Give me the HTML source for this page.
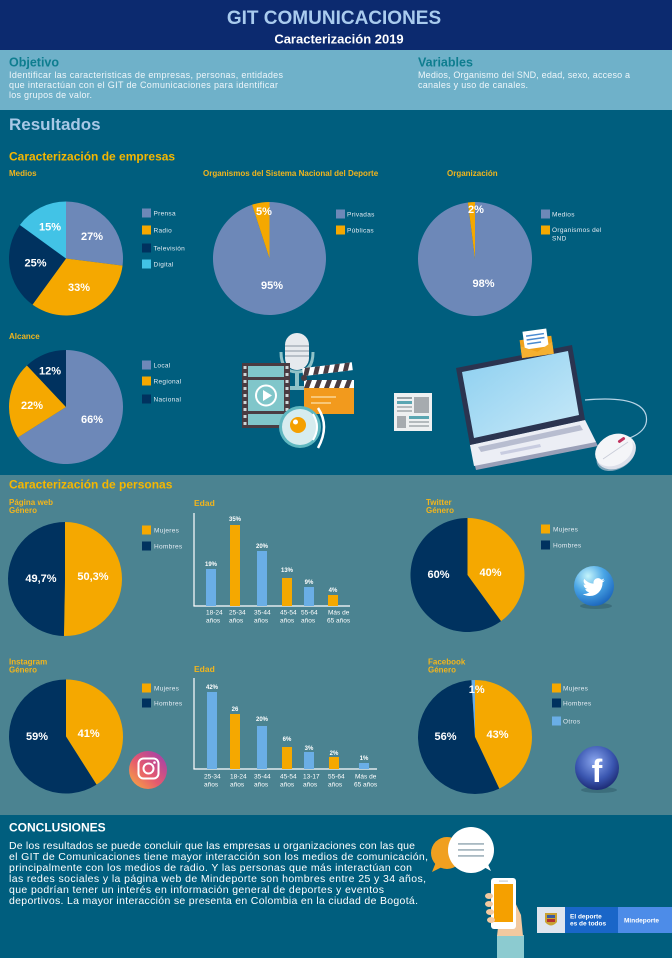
<!DOCTYPE html>
<html><head><meta charset="utf-8">
<style>
html,body{margin:0;padding:0;background:#005e7e;}
svg{display:block;}
text{font-family:"Liberation Sans",sans-serif;}
.lg{font-size:6.5px;fill:#e3ebf2;letter-spacing:0.3px;}
.pl{font-size:11px;font-weight:bold;fill:#ffffff;text-anchor:middle;}
.st{font-size:8px;font-weight:bold;fill:#f2b51c;}
.bv{font-size:6px;font-weight:bold;fill:#ffffff;text-anchor:middle;}
.xl{font-size:6.5px;fill:#ffffff;}
.bd{font-size:9px;fill:#eef6fa;}
.cc{font-size:10.5px;fill:#ffffff;}
</style></head><body>
<svg width="672" height="958" viewBox="0 0 672 958" xmlns="http://www.w3.org/2000/svg">
<defs>
<radialGradient id="tw" cx="0.35" cy="0.25" r="0.8">
<stop offset="0" stop-color="#c4f4fb"/><stop offset="0.5" stop-color="#4aa6e6"/><stop offset="1" stop-color="#1a64bc"/>
</radialGradient>
<radialGradient id="fb" cx="0.45" cy="0.35" r="0.7">
<stop offset="0" stop-color="#8aa6ee"/><stop offset="0.6" stop-color="#3a56b0"/><stop offset="1" stop-color="#18246a"/>
</radialGradient>
<linearGradient id="ig" x1="0" y1="1" x2="1" y2="0">
<stop offset="0" stop-color="#f9b23c"/><stop offset="0.45" stop-color="#e65a6e"/><stop offset="1" stop-color="#9a3cb4"/>
</linearGradient>
<linearGradient id="scr" x1="0" y1="0" x2="1" y2="1">
<stop offset="0" stop-color="#8ccff0"/><stop offset="1" stop-color="#c8e9f8"/>
</linearGradient>
</defs>

<!-- backgrounds -->
<rect x="0" y="0" width="672" height="50" fill="#0c2a6f"/>
<rect x="0" y="50" width="672" height="60" fill="#6fb1c9"/>
<rect x="0" y="110" width="672" height="365" fill="#005e7e"/>
<rect x="0" y="475" width="672" height="340" fill="#4b8391"/>
<rect x="0" y="815" width="672" height="143" fill="#005e7e"/>

<!-- header -->
<text x="334" y="24" font-size="19" font-weight="bold" fill="#a9cbee" text-anchor="middle">GIT COMUNICACIONES</text>
<text x="339" y="43.5" font-size="13" font-weight="bold" fill="#ffffff" text-anchor="middle">Caracterización 2019</text>

<!-- band -->
<text x="9" y="66.5" font-size="12.5" font-weight="bold" fill="#0e7d8f">Objetivo</text>
<text class="bd" x="9" y="78" textLength="274" lengthAdjust="spacing">Identificar las caracteristicas de empresas, personas, entidades</text>
<text class="bd" x="9" y="88" textLength="269" lengthAdjust="spacing">que interactúan con el GIT de Comunicaciones para identificar</text>
<text class="bd" x="9" y="98" textLength="83" lengthAdjust="spacing">los grupos de valor.</text>
<text x="418" y="66.5" font-size="12.5" font-weight="bold" fill="#0e7d8f">Variables</text>
<text class="bd" x="418" y="78" textLength="212" lengthAdjust="spacing">Medios, Organismo del SND, edad, sexo, acceso a</text>
<text class="bd" x="418" y="88" textLength="110" lengthAdjust="spacing">canales y uso de canales.</text>

<!-- resultados -->
<text x="9" y="130" font-size="17" font-weight="bold" fill="#a8c8e6">Resultados</text>
<text x="9" y="160.5" font-size="12" font-weight="bold" fill="#f5b700">Caracterización de empresas</text>

<!-- Medios -->
<text class="st" x="9" y="176">Medios</text>
<path d="M66 258.5 L66 201.5 A57 57 0 0 1 122.55 265.64 Z" fill="#6d88b8"/>
<path d="M66 258.5 L122.55 265.64 A57 57 0 0 1 32.5 304.61 Z" fill="#f5a800"/>
<path d="M66 258.5 L32.5 304.61 A57 57 0 0 1 19.89 225 Z" fill="#00325f"/>
<path d="M66 258.5 L19.89 225 A57 57 0 0 1 66 201.5 Z" fill="#42c3e6"/>
<text class="pl" x="92" y="240">27%</text>
<text class="pl" x="79" y="291">33%</text>
<text class="pl" x="35.5" y="266.5">25%</text>
<text class="pl" x="50" y="230.5">15%</text>
<rect x="142" y="208.5" width="9" height="9" fill="#6d88b8"/><text class="lg" x="153.5" y="215.5">Prensa</text>
<rect x="142" y="225.5" width="9" height="9" fill="#f5a800"/><text class="lg" x="153.5" y="232.5">Radio</text>
<rect x="142" y="243.5" width="9" height="9" fill="#00325f"/><text class="lg" x="153.5" y="250.5">Televisión</text>
<rect x="142" y="259.5" width="9" height="9" fill="#42c3e6"/><text class="lg" x="153.5" y="266.5">Digital</text>

<!-- Organismos -->
<text class="st" x="203" y="176" font-size="7.7">Organismos del Sistema Nacional del Deporte</text>
<path d="M269.5 258.5 L269.5 202 A56.5 56.5 0 1 1 252.04 204.76 Z" fill="#6d88b8"/>
<path d="M269.5 258.5 L252.04 204.76 A56.5 56.5 0 0 1 269.5 202 Z" fill="#f5a800"/>
<text class="pl" x="264" y="215">5%</text>
<text class="pl" x="272" y="289">95%</text>
<rect x="336" y="209.5" width="9" height="9" fill="#6d88b8"/><text class="lg" x="347" y="216.5">Privadas</text>
<rect x="336" y="225.5" width="9" height="9" fill="#f5a800"/><text class="lg" x="347" y="232.5">Públicas</text>

<!-- Organización -->
<text class="st" x="447" y="176">Organización</text>
<path d="M475 259 L475 202 A57 57 0 1 1 467.86 202.45 Z" fill="#6d88b8"/>
<path d="M475 259 L467.86 202.45 A57 57 0 0 1 475 202 Z" fill="#f5a800"/>
<text class="pl" x="476" y="213">2%</text>
<text class="pl" x="483.5" y="287">98%</text>
<rect x="541" y="209.5" width="9" height="9" fill="#6d88b8"/><text class="lg" x="552" y="216.5">Medios</text>
<rect x="541" y="225.5" width="9" height="9" fill="#f5a800"/><text class="lg" x="552" y="232">Organismos del</text>
<text class="lg" x="552" y="240.5">SND</text>

<!-- Alcance -->
<text class="st" x="9" y="339">Alcance</text>
<path d="M66 407 L66 350 A57 57 0 1 1 17.87 437.54 Z" fill="#6d88b8"/>
<path d="M66 407 L17.87 437.54 A57 57 0 0 1 26.98 365.45 Z" fill="#f5a800"/>
<path d="M66 407 L26.98 365.45 A57 57 0 0 1 66 350 Z" fill="#00325f"/>
<text class="pl" x="50" y="374.5">12%</text>
<text class="pl" x="32" y="409">22%</text>
<text class="pl" x="92" y="423">66%</text>
<rect x="142" y="360.5" width="9" height="9" fill="#6d88b8"/><text class="lg" x="153.5" y="367.5">Local</text>
<rect x="142" y="376.5" width="9" height="9" fill="#f5a800"/><text class="lg" x="153.5" y="383.5">Regional</text>
<rect x="142" y="394.5" width="9" height="9" fill="#00325f"/><text class="lg" x="153.5" y="401.5">Nacional</text>

<!-- media illustration -->
<!-- mic holder -->
<path d="M281 352 Q281 372 297 372 Q313 372 313 352" fill="none" stroke="#8fc2c8" stroke-width="3"/>
<rect x="295" y="372" width="4" height="16" fill="#8fc2c8"/>
<rect x="290" y="386" width="14" height="4" fill="#8fc2c8"/>
<rect x="285" y="333" width="24" height="37" rx="12" fill="#e6eaee"/>
<rect x="285" y="345" width="24" height="2" fill="#b8c0c8"/>
<rect x="285" y="350" width="24" height="2" fill="#b8c0c8"/>
<rect x="285" y="355" width="24" height="2" fill="#b8c0c8"/>
<!-- film strip -->
<rect x="242" y="363" width="48" height="65" fill="#4a3c42"/>
<rect x="248" y="366" width="36" height="11" fill="#80c6ca"/>
<rect x="248" y="380" width="36" height="31" fill="#80c6ca"/>
<rect x="248" y="414" width="36" height="11" fill="#80c6ca"/>
<circle cx="266" cy="395.5" r="10" fill="none" stroke="#ffffff" stroke-width="2"/>
<path d="M263 390 L272 395.5 L263 401 Z" fill="#ffffff"/>
<g fill="#cfd8da">
<rect x="243.5" y="366" width="3" height="3"/><rect x="243.5" y="373" width="3" height="3"/><rect x="243.5" y="380" width="3" height="3"/><rect x="243.5" y="387" width="3" height="3"/><rect x="243.5" y="394" width="3" height="3"/><rect x="243.5" y="401" width="3" height="3"/><rect x="243.5" y="408" width="3" height="3"/><rect x="243.5" y="415" width="3" height="3"/><rect x="243.5" y="422" width="3" height="3"/>
<rect x="285.5" y="366" width="3" height="3"/><rect x="285.5" y="373" width="3" height="3"/><rect x="285.5" y="380" width="3" height="3"/><rect x="285.5" y="387" width="3" height="3"/><rect x="285.5" y="394" width="3" height="3"/><rect x="285.5" y="401" width="3" height="3"/><rect x="285.5" y="408" width="3" height="3"/><rect x="285.5" y="415" width="3" height="3"/>
</g>
<!-- clapper -->
<g transform="rotate(-7 305 375)">
<rect x="303" y="368" width="50" height="8" fill="#ffffff"/>
<path d="M306 368 h5 l-3 8 h-5 Z M316 368 h5 l-3 8 h-5 Z M326 368 h5 l-3 8 h-5 Z M336 368 h5 l-3 8 h-5 Z M346 368 h5 l-3 8 h-5 Z" fill="#4a3c42"/>
</g>
<rect x="304" y="380" width="50" height="8" fill="#ffffff"/>
<path d="M307 380 h5 l-3 8 h-5 Z M317 380 h5 l-3 8 h-5 Z M327 380 h5 l-3 8 h-5 Z M337 380 h5 l-3 8 h-5 Z M347 380 h5 l-3 8 h-5 Z" fill="#4a3c42"/>
<rect x="304" y="388" width="50" height="26" fill="#f29a1d"/>
<rect x="311" y="396" width="25" height="2" fill="#f8c778"/>
<rect x="311" y="402" width="20" height="2" fill="#f8c778"/>
<circle cx="304" cy="378" r="3" fill="#4a3c42"/>
<!-- speaker -->
<circle cx="300" cy="427" r="21" fill="#5fb7c0"/>
<circle cx="300" cy="427" r="18" fill="#d6ecef"/>
<circle cx="298" cy="425" r="8" fill="#f5a000"/>
<circle cx="295.5" cy="422" r="2.5" fill="#ffffff"/>
<path d="M318 408 Q330 426 318 448" fill="none" stroke="#ffffff" stroke-width="2.5"/>
<path d="M313 414 Q321 427 313 440" fill="none" stroke="#ffffff" stroke-width="2"/>

<!-- newspaper -->
<rect x="394" y="393" width="38" height="38" fill="#eef0f1"/>
<rect x="397" y="397" width="15" height="2" fill="#9aa2a6"/>
<rect x="397" y="401" width="15" height="3" fill="#5aa6b2"/>
<rect x="397" y="406" width="15" height="2" fill="#b4babd"/>
<rect x="397" y="410" width="15" height="2" fill="#b4babd"/>
<rect x="414" y="397" width="15" height="16" fill="#a6abaf"/>
<rect x="397" y="416" width="9" height="12" fill="#a6abaf"/>
<rect x="409" y="416" width="20" height="3" fill="#5aa6b2"/>
<rect x="409" y="421" width="20" height="2" fill="#b4babd"/>
<rect x="409" y="425" width="20" height="2" fill="#b4babd"/>

<!-- laptop -->
<path d="M585 400 Q640 395 646 415 Q650 432 624 440" fill="none" stroke="#b8d4e6" stroke-width="1.2"/>
<path d="M470 445 L585 420 L598 446 L476 470 Z" fill="#9aa0b8"/>
<path d="M470 445 L585 420 L596 442 L474 466 Z" fill="#eceef5"/>
<path d="M478 447 L580 425 L583 430 L481 452 Z" fill="#b8bdd0"/>
<path d="M500 452 L540 444 L541 447 L501 455 Z" fill="#c8cce0"/>
<path d="M456 368 L572 345 L585 420 L470 445 Z" fill="#2b3450"/>
<path d="M462 372 L568 351 L579 415 L474 438 Z" fill="url(#scr)"/>
<!-- envelope -->
<g transform="rotate(-8 536 342)">
<path d="M520 338 L552 338 L552 356 L520 356 Z" fill="#f0a21c"/>
<rect x="524" y="330" width="24" height="18" fill="#ffffff"/>
<rect x="527" y="334" width="18" height="1.5" fill="#4a8ad0"/>
<rect x="527" y="338" width="18" height="1.5" fill="#4a8ad0"/>
<rect x="527" y="342" width="14" height="1.5" fill="#4a8ad0"/>
<path d="M520 344 L536 352 L552 344 L552 356 L520 356 Z" fill="#f5b030"/>
</g>
<!-- mouse -->
<ellipse cx="616" cy="452" rx="21" ry="16" transform="rotate(-30 616 452)" fill="#eef0f4"/>
<ellipse cx="616" cy="455" rx="21" ry="14" transform="rotate(-30 616 455)" fill="#d2d6e2" opacity="0.6"/>
<ellipse cx="614" cy="450" rx="20" ry="15" transform="rotate(-30 614 450)" fill="#f4f5f8"/>
<path d="M603 459 L628 442" stroke="#c8ccd8" stroke-width="0.8"/>
<rect x="620" y="436" width="3" height="8" rx="1.5" transform="rotate(55 621.5 440)" fill="#c0305c"/>

<!-- personas -->
<text x="9" y="488.5" font-size="12" font-weight="bold" fill="#f5b700">Caracterización de personas</text>

<!-- pagina web -->
<text class="st" x="9" y="505">Página web</text>
<text class="st" x="9" y="513">Género</text>
<path d="M65 579 L65 522 A57 57 0 1 1 63.93 635.99 Z" fill="#f5a800"/>
<path d="M65 579 L63.93 635.99 A57 57 0 0 1 65 522 Z" fill="#00325f"/>
<text class="pl" x="41" y="582">49,7%</text>
<text class="pl" x="93" y="580">50,3%</text>
<rect x="142" y="525.5" width="9" height="9" fill="#f5a800"/><text class="lg" x="154" y="532.5">Mujeres</text>
<rect x="142" y="541.5" width="9" height="9" fill="#00325f"/><text class="lg" x="154" y="548.5">Hombres</text>

<!-- edad 1 -->
<text x="194" y="506" font-size="8.5" font-weight="bold" fill="#f2b51c">Edad</text>
<line x1="194" y1="513" x2="194" y2="606" stroke="#ffffff" stroke-width="1.2"/>
<line x1="193.4" y1="606" x2="350" y2="606" stroke="#ffffff" stroke-width="1.2"/>
<rect x="206" y="569" width="10" height="37" fill="#6aaee6"/>
<rect x="230" y="525" width="10" height="81" fill="#f5a800"/>
<rect x="257" y="551" width="10" height="55" fill="#6aaee6"/>
<rect x="282" y="578" width="10" height="28" fill="#f5a800"/>
<rect x="304" y="587" width="10" height="19" fill="#6aaee6"/>
<rect x="328" y="595" width="10" height="11" fill="#f5a800"/>
<text class="bv" x="211" y="566">19%</text>
<text class="bv" x="235" y="521">35%</text>
<text class="bv" x="262" y="548">20%</text>
<text class="bv" x="287" y="572">13%</text>
<text class="bv" x="309" y="584">9%</text>
<text class="bv" x="333" y="592">4%</text>
<text class="xl" x="206" y="614.5">18-24</text><text class="xl" x="206" y="622.5">años</text>
<text class="xl" x="229" y="614.5">25-34</text><text class="xl" x="229" y="622.5">años</text>
<text class="xl" x="254" y="614.5">35-44</text><text class="xl" x="254" y="622.5">años</text>
<text class="xl" x="280" y="614.5">45-54</text><text class="xl" x="280" y="622.5">años</text>
<text class="xl" x="301" y="614.5">55-64</text><text class="xl" x="301" y="622.5">años</text>
<text class="xl" x="328" y="614.5">Más de</text><text class="xl" x="327" y="622.5">65 años</text>

<!-- twitter -->
<text class="st" x="426" y="505">Twitter</text>
<text class="st" x="426" y="513">Género</text>
<path d="M467.5 575 L467.5 518 A57 57 0 0 1 501 621.11 Z" fill="#f5a800"/>
<path d="M467.5 575 L501 621.11 A57 57 0 1 1 467.5 518 Z" fill="#00325f"/>
<text class="pl" x="438.5" y="578">60%</text>
<text class="pl" x="490.5" y="576">40%</text>
<rect x="541" y="524.5" width="9" height="9" fill="#f5a800"/><text class="lg" x="553" y="531.5">Mujeres</text>
<rect x="541" y="540.5" width="9" height="9" fill="#00325f"/><text class="lg" x="553" y="547.5">Hombres</text>
<ellipse cx="596" cy="606" rx="16" ry="3" fill="#2d5a68" opacity="0.5"/>
<circle cx="594" cy="586" r="20" fill="url(#tw)"/>
<path transform="translate(583 576) scale(0.92)" d="M23.6 4.6c-.9.4-1.8.6-2.8.8 1-.6 1.8-1.6 2.1-2.7-.9.6-2 1-3.1 1.2C19 2.9 17.7 2.3 16.3 2.3c-2.7 0-4.9 2.2-4.9 4.9 0 .4 0 .8.1 1.1C7.4 8.1 3.8 6.1 1.4 3.1 1 3.9.7 4.7.7 5.6c0 1.7.9 3.2 2.2 4.1-.8 0-1.6-.2-2.2-.6v.1c0 2.4 1.7 4.4 3.9 4.8-.4.1-.8.2-1.3.2-.3 0-.6 0-.9-.1.6 2 2.4 3.4 4.6 3.4-1.7 1.3-3.800 2.1-6.1 2.1-.4 0-.8 0-1.2-.1 2.2 1.4 4.8 2.2 7.5 2.2 9.1 0 14-7.5 14-14v-.6c1-.7 1.8-1.6 2.5-2.5z" fill="#ffffff"/>

<!-- instagram -->
<text class="st" x="9" y="664.5">Instagram</text>
<text class="st" x="9" y="672.5">Género</text>
<path d="M66 736.5 L66 679.5 A57 57 0 0 1 96.54 784.63 Z" fill="#f5a800"/>
<path d="M66 736.5 L96.54 784.63 A57 57 0 1 1 66 679.5 Z" fill="#00325f"/>
<text class="pl" x="37" y="740">59%</text>
<text class="pl" x="88.7" y="737">41%</text>
<rect x="142" y="683.5" width="9" height="9" fill="#f5a800"/><text class="lg" x="154" y="690.5">Mujeres</text>
<rect x="142" y="698.5" width="9" height="9" fill="#00325f"/><text class="lg" x="154" y="705.5">Hombres</text>
<circle cx="148" cy="770" r="19" fill="url(#ig)"/>
<rect x="138.5" y="758.5" width="20" height="20" rx="5" fill="none" stroke="#ffffff" stroke-width="2"/>
<circle cx="148.5" cy="768.5" r="5" fill="none" stroke="#ffffff" stroke-width="2"/>
<circle cx="154.5" cy="762.5" r="1.3" fill="#ffffff"/>

<!-- edad 2 -->
<text x="194" y="672" font-size="8.5" font-weight="bold" fill="#f2b51c">Edad</text>
<line x1="194" y1="678" x2="194" y2="769" stroke="#ffffff" stroke-width="1.2"/>
<line x1="193.4" y1="769" x2="377" y2="769" stroke="#ffffff" stroke-width="1.2"/>
<rect x="207" y="692" width="10" height="77" fill="#6aaee6"/>
<rect x="230" y="714" width="10" height="55" fill="#f5a800"/>
<rect x="257" y="726" width="10" height="43" fill="#6aaee6"/>
<rect x="282" y="747" width="10" height="22" fill="#f5a800"/>
<rect x="304" y="752" width="10" height="17" fill="#6aaee6"/>
<rect x="329" y="757" width="10" height="12" fill="#f5a800"/>
<rect x="359" y="763" width="10" height="6" fill="#6aaee6"/>
<text class="bv" x="212" y="689">42%</text>
<text class="bv" x="235" y="711">26</text>
<text class="bv" x="262" y="721">20%</text>
<text class="bv" x="287" y="741">6%</text>
<text class="bv" x="309" y="750">3%</text>
<text class="bv" x="334" y="755">2%</text>
<text class="bv" x="364" y="760">1%</text>
<text class="xl" x="204" y="778.5">25-34</text><text class="xl" x="204" y="786.5">años</text>
<text class="xl" x="230" y="778.5">18-24</text><text class="xl" x="230" y="786.5">años</text>
<text class="xl" x="254" y="778.5">35-44</text><text class="xl" x="254" y="786.5">años</text>
<text class="xl" x="280" y="778.5">45-54</text><text class="xl" x="280" y="786.5">años</text>
<text class="xl" x="303" y="778.5">13-17</text><text class="xl" x="303" y="786.5">años</text>
<text class="xl" x="328" y="778.5">55-64</text><text class="xl" x="328" y="786.5">años</text>
<text class="xl" x="355" y="778.5">Más de</text><text class="xl" x="354" y="786.5">65 años</text>

<!-- facebook -->
<text class="st" x="428" y="664.5">Facebook</text>
<text class="st" x="428" y="672.5">Género</text>
<path d="M475 737 L475 680 A57 57 0 0 1 499.27 788.57 Z" fill="#f5a800"/>
<path d="M475 737 L499.27 788.57 A57 57 0 1 1 471.42 680.11 Z" fill="#00325f"/>
<path d="M475 737 L471.42 680.11 A57 57 0 0 1 475 680 Z" fill="#6aaee6"/>
<text class="pl" x="476.7" y="693">1%</text>
<text class="pl" x="445.5" y="740">56%</text>
<text class="pl" x="497.5" y="738">43%</text>
<rect x="552" y="683.5" width="9" height="9" fill="#f5a800"/><text class="lg" x="563" y="690.5">Mujeres</text>
<rect x="552" y="698.5" width="9" height="9" fill="#00325f"/><text class="lg" x="563" y="705.5">Hombres</text>
<rect x="552" y="716.5" width="9" height="9" fill="#6aaee6"/><text class="lg" x="563" y="723.5">Otros</text>
<ellipse cx="599" cy="790" rx="18" ry="3" fill="#2d5a68" opacity="0.5"/>
<circle cx="597" cy="768" r="22" fill="url(#fb)"/>
<text x="597" y="782" font-size="32" font-weight="bold" fill="#ffffff" text-anchor="middle">f</text>

<!-- conclusiones -->
<text x="9" y="831.5" font-size="12" font-weight="bold" fill="#ffffff">CONCLUSIONES</text>
<text class="cc" x="9" y="849" textLength="406" lengthAdjust="spacing">De los resultados se puede concluir que las empresas u organizaciones con las que</text>
<text class="cc" x="9" y="860" textLength="419" lengthAdjust="spacing">el GIT de Comunicaciones tiene mayor interacción son los medios de comunicación,</text>
<text class="cc" x="9" y="871" textLength="403" lengthAdjust="spacing">principalmente con los medios de radio. Y las personas que más interactúan con</text>
<text class="cc" x="9" y="882" textLength="417" lengthAdjust="spacing">las redes sociales y la página web de Mindeporte son hombres entre 25 y 34 años,</text>
<text class="cc" x="9" y="893" textLength="375" lengthAdjust="spacing">que podrían tener un interés en información general de deportes y eventos</text>
<text class="cc" x="9" y="904" textLength="409" lengthAdjust="spacing">deportivos. La mayor interacción se presenta en Colombia en la ciudad de Bogotá.</text>

<!-- bubbles -->
<circle cx="447" cy="853" r="16" fill="#f0a020"/>
<path d="M436 862 L432 872 L444 866 Z" fill="#f0a020"/>
<circle cx="471" cy="850" r="23" fill="#ffffff"/>
<path d="M482 866 L491 871 L486 860 Z" fill="#ffffff"/>
<rect x="458" y="843" width="26" height="1.8" fill="#a9b9c2"/>
<rect x="458" y="849" width="26" height="1.8" fill="#a9b9c2"/>
<rect x="458" y="855" width="26" height="1.8" fill="#a9b9c2"/>

<!-- hand + phone -->
<rect x="497" y="935" width="27" height="23" fill="#8ccbd0"/>
<path d="M497 936 L500 910 L514 900 L521 915 L523 936 Z" fill="#f2c9a0"/>
<rect x="491" y="878" width="25" height="51" rx="3" fill="#ffffff"/>
<rect x="494" y="884" width="19" height="38" fill="#f5a000"/>
<rect x="499" y="880.5" width="9" height="1.2" fill="#c8ccd0"/>
<ellipse cx="489" cy="896" rx="4" ry="3" fill="#f2c9a0"/>
<ellipse cx="489" cy="904" rx="4" ry="3" fill="#f2c9a0"/>
<ellipse cx="490" cy="912" rx="4" ry="3" fill="#f2c9a0"/>
<ellipse cx="491" cy="920" rx="4" ry="3" fill="#f2c9a0"/>

<!-- logo -->
<rect x="537" y="907" width="28" height="26" fill="#dfe5ee"/>
<path d="M545 913 L557 913 L557 922 Q551 929 545 922 Z" fill="#c9a233"/>
<rect x="547" y="915" width="8" height="3" fill="#3a5aa0"/>
<rect x="547" y="919" width="8" height="3" fill="#b33030"/>
<rect x="565" y="907" width="53" height="26" fill="#1966c8"/>
<rect x="618" y="907" width="54" height="26" fill="#4d8ce8"/>
<text x="570" y="918.5" font-size="6.5" font-weight="bold" fill="#ffffff">El deporte</text>
<text x="570" y="925.5" font-size="6.5" font-weight="bold" fill="#ffffff">es de todos</text>
<text x="624" y="922.5" font-size="6.5" font-weight="bold" fill="#ffffff">Mindeporte</text>
</svg>
</body></html>
